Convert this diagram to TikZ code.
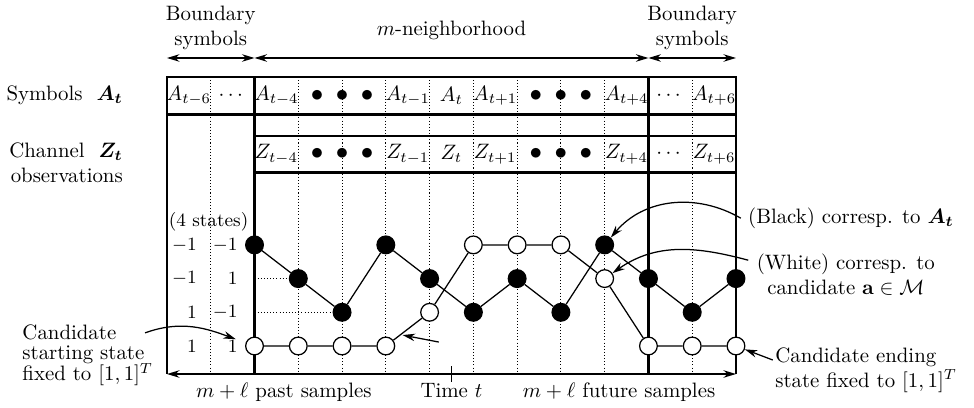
\documentclass[tikz,border=0pt]{standalone}
\usepackage{amsmath}
\usepackage{amssymb}
\usetikzlibrary{arrows.meta}

\begin{document}
\begin{tikzpicture}[
    x=21pt, y=21pt,
    frame/.style={line width=1.2pt},
    gridline/.style={densely dotted, line width=0.5pt},
    statenode/.style={circle, draw, line width=0.6pt, minimum size=8.5pt, inner sep=0pt},
    blackstate/.style={statenode, fill=black},
    whitestate/.style={statenode, fill=white},
    trellis/.style={line width=0.6pt},
    arrow/.style={-{Stealth[length=6pt,width=3.6pt]}, line width=0.6pt},
    span/.style={{Stealth[length=6pt,width=3.6pt]}-{Stealth[length=6pt,width=3.6pt]}, line width=0.6pt},
    level/.style={font=\small, anchor=east, inner sep=0pt},
    bullets/.style={font=\large}
]
    \useasboundingbox (-3.815,-0.754) rectangle (18.438,8.545);

    % Grid
    \draw[gridline] (1,6.79) -- (1,0)  (3,6.79) -- (3,0)  (4,6.79) -- (4,0)
                    (5,6.79) -- (5,0)  (6,6.79) -- (6,0)  (7,6.79) -- (7,0)
                    (8,6.79) -- (8,0)  (9,6.79) -- (9,0)  (10,6.79) -- (10,0)
                    (12,6.79) -- (12,0);
    \draw[gridline] (2,2.18) -- (3,2.18)  (2,1.41) -- (4,1.41);
    \draw[frame] (0,5.93) rectangle (13,6.79);
    \draw[frame] (2,4.6) rectangle (13,5.44);
    \draw[frame] (0,6.79) -- (0,0)  (2,6.79) -- (2,0)  (11,6.79) -- (11,0)  (13,6.79) -- (13,0);

    % Spans
    \coordinate (s0) at (0,7.22);
    \coordinate (s2) at (2,7.22);
    \coordinate (s11) at (11,7.22);
    \coordinate (s13) at (13,7.22);
    \coordinate (axisL) at (0,0);
    \coordinate (axisR) at (13,0);
    \draw[span] (s0) -- (s2);
    \draw[span] (s2) -- (s11);
    \draw[span] (s11) -- (s13);
    \draw[span, line width=0.8pt] (axisL) -- (axisR);
    \draw[trellis] (6.5,0.18) -- (6.5,-0.18);

    \node[align=center] (leftbound) at (1,7.9) {Boundary\\symbols};
    \node (neighbor) at (6.5,7.85) {$m$-neighborhood};
    \node[align=center] (rightbound) at (12,7.9) {Boundary\\symbols};

    % Row labels
    \node[anchor=east, inner sep=0pt] (symlabel) at (-1,6.36) {Symbols~~$\boldsymbol{A_t}$};
    \node[anchor=east, align=right, inner sep=0pt] (chanlabel) at (-1,4.82) {Channel~~$\boldsymbol{Z_t}$\\observations};

    % Cells
    \node (Atm6) at (0.5,6.36) {$A_{t-6}$};
    \node (Adots1) at (1.5,6.36) {$\cdots$};
    \node (Atm4) at (2.5,6.36) {$A_{t-4}$};
    \node[bullets] (Abul1) at (4,6.36) {$\bullet$\hspace{6pt}$\bullet$\hspace{6pt}$\bullet$};
    \node (Atm1) at (5.5,6.36) {$A_{t-1}$};
    \node (At) at (6.5,6.36) {$A_{t}$};
    \node (Atp1) at (7.5,6.36) {$A_{t+1}$};
    \node[bullets] (Abul2) at (9,6.36) {$\bullet$\hspace{6pt}$\bullet$\hspace{6pt}$\bullet$};
    \node (Atp4) at (10.5,6.36) {$A_{t+4}$};
    \node (Adots2) at (11.5,6.36) {$\cdots$};
    \node (Atp6) at (12.5,6.36) {$A_{t+6}$};

    \node (Ztm4) at (2.5,5.02) {$Z_{t-4}$};
    \node[bullets] (Zbul1) at (4,5.02) {$\bullet$\hspace{6pt}$\bullet$\hspace{6pt}$\bullet$};
    \node (Ztm1) at (5.5,5.02) {$Z_{t-1}$};
    \node (Zt) at (6.5,5.02) {$Z_{t}$};
    \node (Ztp1) at (7.5,5.02) {$Z_{t+1}$};
    \node[bullets] (Zbul2) at (9,5.02) {$\bullet$\hspace{6pt}$\bullet$\hspace{6pt}$\bullet$};
    \node (Ztp4) at (10.5,5.02) {$Z_{t+4}$};
    \node (Zdots) at (11.5,5.02) {$\cdots$};
    \node (Ztp6) at (12.5,5.02) {$Z_{t+6}$};

    % States
    \node[font=\small] (states) at (0.95,3.47) {(4 states)};
    \node[level] (lv1a) at (0.69,2.95) {$-1$};
    \node[level] (lv1b) at (1.62,2.95) {$-1$};
    \node[level] (lv2a) at (0.69,2.18) {$-1$};
    \node[level] (lv2b) at (1.62,2.18) {$1$};
    \node[level] (lv3a) at (0.69,1.41) {$1$};
    \node[level] (lv3b) at (1.62,1.41) {$-1$};
    \node[level] (lv4a) at (0.69,0.64) {$1$};
    \node[level] (lv4b) at (1.62,0.64) {$1$};

    \node[blackstate] (b2) at (2,2.95) {};
    \node[blackstate] (b3) at (3,2.18) {};
    \node[blackstate] (b4) at (4,1.41) {};
    \node[blackstate] (b5) at (5,2.95) {};
    \node[blackstate] (b6) at (6,2.18) {};
    \node[blackstate] (b7) at (7,1.41) {};
    \node[blackstate] (b8) at (8,2.18) {};
    \node[blackstate] (b9) at (9,1.41) {};
    \node[blackstate] (b10) at (10,2.95) {};
    \node[blackstate] (b11) at (11,2.18) {};
    \node[blackstate] (b12) at (12,1.41) {};
    \node[blackstate] (b13) at (13,2.18) {};

    \node[whitestate] (w2) at (2,0.64) {};
    \node[whitestate] (w3) at (3,0.64) {};
    \node[whitestate] (w4) at (4,0.64) {};
    \node[whitestate] (w5) at (5,0.64) {};
    \node[whitestate] (w6) at (6,1.41) {};
    \node[whitestate] (w7) at (7,2.95) {};
    \node[whitestate] (w8) at (8,2.95) {};
    \node[whitestate] (w9) at (9,2.95) {};
    \node[whitestate] (w10) at (10,2.18) {};
    \node[whitestate] (w11) at (11,0.64) {};
    \node[whitestate] (w12) at (12,0.64) {};
    \node[whitestate] (w13) at (13,0.64) {};

    \draw[trellis] (b2) -- (b3) -- (b4) -- (b5) -- (b6) -- (b7) -- (b8)
                   -- (b9) -- (b10) -- (b11) -- (b12) -- (b13);
    \draw[trellis] (w2) -- (w3) -- (w4) -- (w5) -- coordinate[pos=0.25] (wtip) (w6)
                   -- (w7) -- (w8) -- (w9) -- (w10) -- (w11) -- (w12) -- (w13);

    % Axis labels
    \node[anchor=base] (pastlabel) at (2.67,-0.53) {$m+\ell$ past samples};
    \node[anchor=base] (timelabel) at (6.5,-0.53) {Time $t$};
    \node[anchor=base] (futurelabel) at (10.33,-0.53) {$m+\ell$ future samples};

    % Side notes
    \node[anchor=west] (blacklab) at (13.11,3.56) {(Black) corresp. to $\boldsymbol{A_t}$};
    \node[align=center] (whitelab) at (15.51,2.28) {(White) corresp. to\\candidate $\mathbf{a}\in\mathcal{M}$};
    \node[anchor=west, align=left] (endlab) at (13.73,0.09) {Candidate ending\\state fixed to $[1,1]^T$};
    \node[anchor=west, align=left] (startlab) at (-3.47,0.43) {Candidate\\[-2pt]starting state\\[-2pt]fixed to $[1,1]^T$};

    % Arrows
    \coordinate (starttail) at (-0.5,0.94);
    \coordinate (midtail) at (6.21,0.73);
    \coordinate (whitetail) at (13.28,2.6);
    \coordinate (endtail) at (13.84,0.32);
    \draw[arrow, shorten >=5pt] (starttail) to[out=20,in=160] (w2);
    \draw[arrow, shorten >=1pt] (midtail) -- (wtip);
    \draw[arrow] (blacklab.west) to[out=150,in=50] (b10);
    \draw[arrow] (whitetail) to[out=165,in=35] (w10);
    \draw[arrow] (endtail) -- (w13);
\end{tikzpicture}
\end{document}
